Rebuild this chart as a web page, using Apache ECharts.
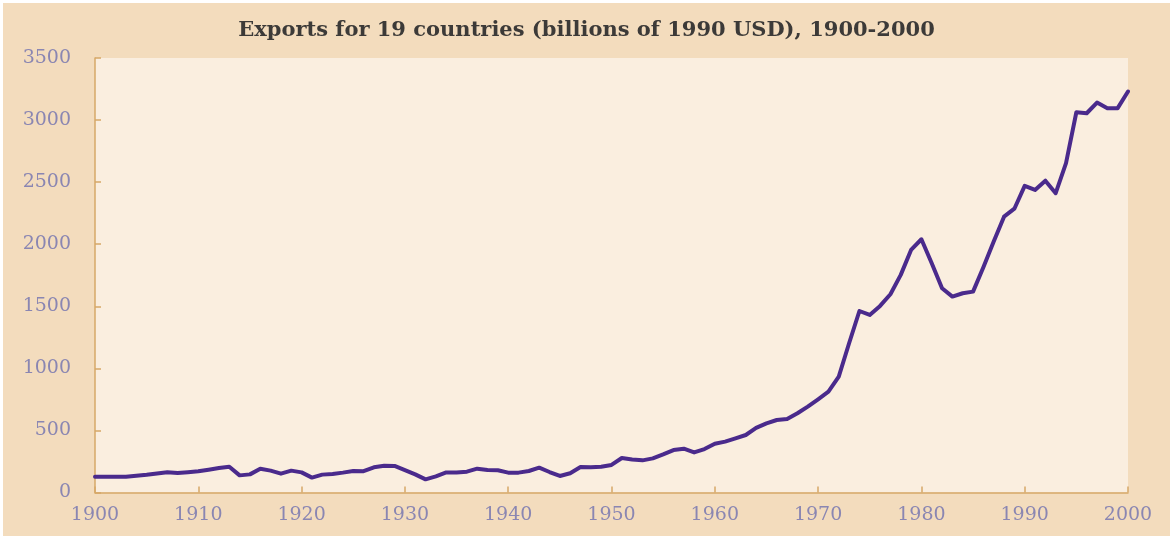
<!DOCTYPE html>
<html>
<head>
<meta charset="utf-8">
<script src="https://cdn.jsdelivr.net/npm/echarts@6/dist/echarts.min.js"></script>
<style>
  html, body { margin: 0; padding: 0; background: #ffffff; }
  #chart { position: absolute; left: 3px; top: 3px; width: 1167px; height: 533px; }
</style>
</head>
<body>
<div id="chart"></div>
<script>
// exports, billions of 1990 USD
var years = []
for (var y = 1900; y <= 2000; y++) years.push(y)

var exportsValues = [
  127, 127, 127, 127, 135, 143, 153, 163, 157, 164,
  171, 184, 197, 208, 138, 146, 192, 176, 152, 176,
  162, 120, 144, 149, 160, 173, 172, 203, 216, 214,
  181, 146, 106, 130, 162, 162, 168, 192, 181, 179,
  160, 160, 173, 200, 165, 133, 155, 205, 203, 208,
  222, 278, 266, 259, 275, 307, 342, 353, 323, 350,
  393, 410, 436, 463, 520, 557, 584, 592, 638, 692,
  751, 812, 933, 1202, 1462, 1430, 1503, 1597, 1753, 1954,
  2040, 1847, 1645, 1578, 1605, 1618, 1815, 2021, 2222, 2286,
  2470, 2437, 2512, 2411, 2653, 3063, 3055, 3141, 3096, 3096,
  3230
]

var xTicks = [1900, 1910, 1920, 1930, 1940, 1950, 1960, 1970, 1980, 1990, 2000]
var yTicks = [0, 500, 1000, 1500, 2000, 2500, 3000, 3500]

var chart = echarts.init(document.getElementById('chart'))

var axisColor = '#D6A868'
var labelStyle = {
  color: '#8A86B2',
  fontFamily: 'DejaVu Serif',
  fontSize: 19,
  formatter: function (v) { return String(v) }
}

chart.setOption({
  backgroundColor: '#F3DCBD',
  animation: false,
  title: {
    text: 'Exports for 19 countries (billions of 1990 USD), 1900-2000',
    left: 'center',
    top: 12,
    textStyle: {
      fontFamily: 'DejaVu Serif',
      fontWeight: 'bold',
      fontSize: 21,
      color: '#3C3A38'
    }
  },
  grid: {
    left: 92,
    right: 42,
    top: 55,
    bottom: 43.5,
    show: true,
    backgroundColor: '#FAEEDF',
    borderWidth: 0
  },
  xAxis: {
    type: 'value',
    min: xTicks[0],
    max: xTicks[xTicks.length - 1],
    interval: 10,
    axisLine: { lineStyle: { color: axisColor, width: 1.5 } },
    axisTick: { inside: true, length: 6, lineStyle: { color: axisColor, width: 1.5 } },
    splitLine: { show: false },
    axisLabel: Object.assign({ margin: 13 }, labelStyle)
  },
  yAxis: {
    type: 'value',
    min: yTicks[0],
    max: yTicks[yTicks.length - 1],
    interval: 500,
    axisLine: { show: true, lineStyle: { color: axisColor, width: 1.5 } },
    axisTick: { show: true, inside: true, length: 6, lineStyle: { color: axisColor, width: 1.5 } },
    splitLine: { show: false },
    axisLabel: Object.assign({ margin: 24 }, labelStyle)
  },
  series: [{
    type: 'line',
    data: years.map(function (yr, i) { return [yr, exportsValues[i]] }),
    showSymbol: false,
    lineStyle: { color: '#4A2A8C', width: 4, join: 'round', cap: 'round' }
  }]
})
</script>
</body>
</html>
